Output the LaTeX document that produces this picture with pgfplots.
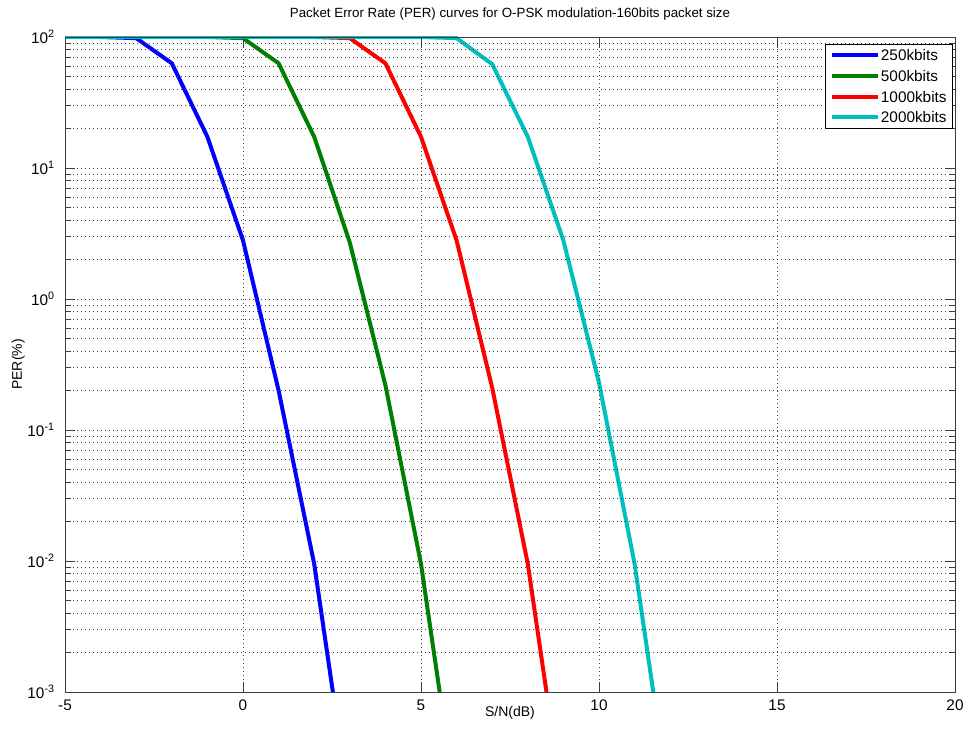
\documentclass[border=0pt]{standalone}
\usepackage{fontspec}
\setmainfont{Liberation Sans}
\usepackage{pgfplots}
\pgfplotsset{compat=1.18}
\definecolor{mblue}{RGB}{0,0,255}
\definecolor{mgreen}{RGB}{0,128,0}
\definecolor{mred}{RGB}{255,0,0}
\definecolor{mcyan}{RGB}{0,191,191}
\definecolor{axgrey}{RGB}{60,60,60}

\begin{document}
\begin{tikzpicture}
% fixed frame: 1px = 0.75pt, axis box at origin
\path[use as bounding box] (-48.75pt,-31.5pt) rectangle (674.25pt,519pt);
\begin{axis}[
    scale only axis,
    width=667.5pt,
    height=491.25pt,
    xmin=-5, xmax=20,
    ymode=log, log basis y=10,
    ymin=1e-3, ymax=1e2,
    axis on top,
    axis line style={axgrey, line width=0.6pt},
    tick style={axgrey, line width=0.6pt},
    tick align=inside,
    xtick pos=both, ytick pos=both,
    major tick length=7.5pt,
    minor tick length=4.5pt,
    xtick={-5,0,5,10,15,20},
    xticklabels={-5,0,5,10,15,20},
    ytick={1e-3,1e-2,1e-1,1e0,1e1,1e2},
    yticklabels={10\textsuperscript{-3},10\textsuperscript{-2},10\textsuperscript{-1},
                 10\textsuperscript{0},10\textsuperscript{1},10\textsuperscript{2}},
    minor ytick={2e-3,3e-3,4e-3,5e-3,6e-3,7e-3,8e-3,9e-3,
                 2e-2,3e-2,4e-2,5e-2,6e-2,7e-2,8e-2,9e-2,
                 0.2,0.3,0.4,0.5,0.6,0.7,0.8,0.9,
                 2,3,4,5,6,7,8,9,
                 20,30,40,50,60,70,80,90},
    xmajorgrids, ymajorgrids, yminorgrids,
    grid style={black!75, line width=0.5pt, dash pattern=on 0.75pt off 2.25pt},
    minor grid style={black!75, line width=0.5pt, dash pattern=on 0.75pt off 2.25pt},
    ticklabel style={font=\fontsize{11.5}{13}\selectfont},
    xticklabel style={inner sep=0pt, anchor=north, yshift=-6pt},
    yticklabel style={inner sep=0pt, anchor=east, xshift=-7.5pt},
    title={Packet Error Rate (PER) curves for O-PSK modulation-160bits packet size},
    title style={at={(0.5,1)}, anchor=south, inner sep=0pt, yshift=6pt,
                 font=\fontsize{10}{12}\selectfont},
    xlabel={S/N(dB)},
    xlabel style={at={(axis description cs:0.5,0)}, anchor=north, inner sep=0pt,
                  yshift=-10.5pt, font=\fontsize{10.5}{12}\selectfont},
    ylabel={PER(\%)},
    ylabel style={at={(axis description cs:-0.045,0.5)}, anchor=south,
                  inner sep=0pt, font=\fontsize{10.5}{12}\selectfont},
    legend style={at={(1,1)}, anchor=north east, xshift=-1.5pt, yshift=-5pt,
                  draw=black, line width=0.6pt, fill=white, inner sep=3.5pt,
                  font=\fontsize{11.5}{13}\selectfont,
                  row sep=5.5pt,
                  nodes={inner sep=1pt, text height=8pt, text depth=0pt}},
    legend cell align=left,
    legend image code/.code={\draw[#1] (0pt,0pt) -- (34pt,0pt);},
    every axis plot/.append style={line width=3pt},
]
\addplot[mblue] coordinates {
    (-5,100) (-4,100) (-3,98) (-2,63) (-1,17.3) (0,2.8)
    (1,0.2) (2,0.0095) (3,0.00013)
};
\addplot[mgreen] coordinates {
    (-5,100) (-1,100) (0,98) (1,63) (2,17.3) (3,2.7)
    (4,0.22) (5,0.0095) (6,0.00013)
};
\addplot[mred] coordinates {
    (-5,100) (2,100) (3,98) (4,63) (5,17.3) (6,2.8)
    (7,0.21) (8,0.0095) (9,0.00013)
};
\addplot[mcyan] coordinates {
    (-5,100) (5,100) (6,98) (7,62) (8,17.3) (9,2.8)
    (10,0.23) (11,0.0095) (12,0.00013)
};
\legend{250kbits,500kbits,1000kbits,2000kbits}
\end{axis}
\end{tikzpicture}
\end{document}
